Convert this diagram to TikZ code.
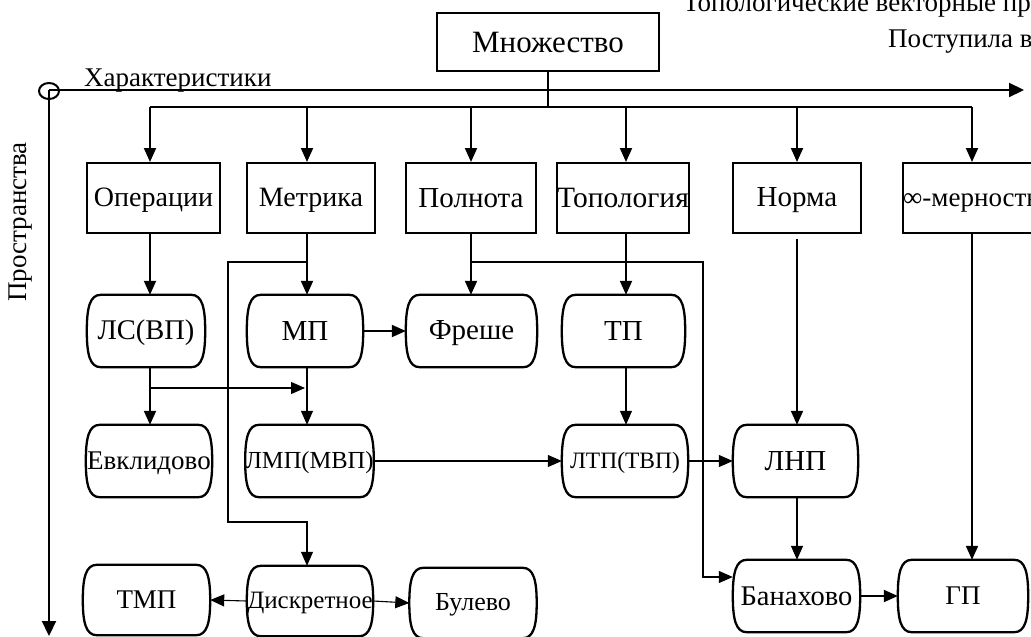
\documentclass[tikz,border=0pt]{standalone}
\usepackage{fontspec}
\setmainfont{Liberation Serif}
\usetikzlibrary{arrows.meta}
\newcommand\fs[1]{\fontsize{#1}{#1}\selectfont}
\newcommand\mystrut{\vrule height 0.82em depth 0.16em width 0pt\relax}
\tikzset{
  box/.style={draw, line width=2pt, inner sep=0pt, font=\fs{28}, execute at begin node=\mystrut},
  bar/.style={inner sep=0pt, font=\fs{27}, execute at begin node=\mystrut},
  bline/.style={line width=2.3pt},
  tip/.style={-{Triangle[length=14pt,width=12pt]}},
  thk/.style={line width=2pt, tip},
  thn/.style={line width=1.1pt, tip},
  thnl/.style={line width=1.1pt},
  axis/.style={line width=2.2pt, -{Triangle[length=15pt,width=14pt]}},
  lbl/.style={inner sep=0pt, font=\fs{27}},
}
\newcommand\barrelshape[1]{%
  \draw[bline] ([xshift=14pt]#1.north west) -- ([xshift=-14pt]#1.north east)
    .. controls ([xshift=-3pt]#1.north east) and ([yshift=-13pt]#1.north east) .. (#1.east)
    .. controls ([yshift=13pt]#1.south east) and ([xshift=-3pt]#1.south east) .. ([xshift=-14pt]#1.south east)
    -- ([xshift=14pt]#1.south west)
    .. controls ([xshift=3pt]#1.south west) and ([yshift=13pt]#1.south west) .. (#1.west)
    .. controls ([yshift=-13pt]#1.north west) and ([xshift=3pt]#1.north west) .. cycle;}
\begin{document}
\begin{tikzpicture}[x=1pt,y=-1pt]
\useasboundingbox (0,0) rectangle (1031,637);
\clip (0,0) rectangle (1031,637);

% header texts
\node[lbl, anchor=base east] (hdr) at (1031,11) {Топологические векторные пр};
\node[lbl, anchor=base west] (rcv) at (888,47) {Поступила в};

% axes
\coordinate (o) at (49,90);
\coordinate (xend) at (1024,90);
\coordinate (yend) at (49,636);
\draw[line width=2pt] (49,91) ellipse [x radius=10pt, y radius=8pt];
\draw[axis] (o) -- (xend);
\draw[axis] (o) -- (yend);
\node[lbl, anchor=base west] (xl) at (84,86) {Характеристики};
\node[lbl, rotate=90] (yl) at (21,222) {Пространства};

% top
\node[box, minimum width=222pt, minimum height=58pt, font=\fs{31}] (set) at (548,42) {Множество};

% characteristic boxes
\node[box, minimum width=133pt, minimum height=70pt] (ops) at (153.5,198) {Операции};
\node[box, minimum width=128pt, minimum height=70pt] (metr) at (311,198) {Метрика};
\node[box, minimum width=130pt, minimum height=70pt, font=\fs{29}] (poln) at (471,198) {Полнота};
\node[box, minimum width=122pt, minimum height=70pt, font=\fs{29.5}] (topo) at (623,198) {Топология};
\node[box, minimum width=128pt, minimum height=70pt, font=\fs{29}] (norm) at (797,198) {Норма};
\node[box, minimum width=136pt, minimum height=70pt, font=\fs{27}] (inf) at (971,198) {∞-мерность};

% spaces
\node[bar, minimum width=118pt, minimum height=72pt, font=\fs{28.5}] (ls) at (146,331) {ЛС(ВП)};
\node[bar, minimum width=116pt, minimum height=72pt, font=\fs{29}] (mp) at (305,331) {МП};
\node[bar, minimum width=131pt, minimum height=72pt, font=\fs{29}] (fr) at (471.5,331) {Фреше};
\node[bar, minimum width=123pt, minimum height=72pt, font=\fs{29}] (tp) at (623.5,331) {ТП};
\node[bar, minimum width=126pt, minimum height=72pt] (evk) at (149,461) {Евклидово};
\node[bar, minimum width=127pt, minimum height=72pt, font=\fs{24.5}] (lmp) at (309.5,461) {ЛМП(МВП)};
\node[bar, minimum width=126pt, minimum height=72pt, font=\fs{23.5}] (ltp) at (625,461) {ЛТП(ТВП)};
\node[bar, minimum width=125pt, minimum height=72pt, font=\fs{29}] (lnp) at (795.5,461) {ЛНП};
\node[bar, minimum width=127pt, minimum height=70pt] (tmp) at (146.5,600) {ТМП};
\node[bar, minimum width=126pt, minimum height=70pt, font=\fs{25}] (disk) at (310,601) {Дискретное};
\node[bar, minimum width=127pt, minimum height=70pt, font=\fs{26}] (bul) at (473,603) {Булево};
\node[bar, minimum width=127pt, minimum height=72pt, font=\fs{28.5}] (ban) at (796.5,596) {Банахово};
\node[bar, minimum width=130pt, minimum height=72pt] (gp) at (963,596) {ГП};
\foreach \n in {ls,mp,fr,tp,evk,lmp,ltp,lnp,tmp,disk,bul,ban,gp} {\barrelshape{\n}}

% distribution bus
\coordinate (k1) at (150,107);
\coordinate (k2) at (307,107);
\coordinate (k3) at (471,107);
\coordinate (k4) at (626,107);
\coordinate (k5) at (797,107);
\coordinate (k6) at (972,107);
\draw[thnl] (set.south) -- (set.south |- k1);
\draw[thnl] (k1) -- (k6);
\foreach \k/\b in {k1/ops,k2/metr,k3/poln,k4/topo,k5/norm,k6/inf} {\draw[thk] (\k) -- (\k |- \b.north);}

% vertical chains
\draw[thk] (k1 |- ops.south) -- (k1 |- ls.north);
\draw[thk] (k1 |- ls.south) -- (k1 |- evk.north);
\coordinate (lsb) at (150,388);
\draw[thn, shorten >=2pt] (lsb) -- (k2 |- lsb);
\draw[thk] (k2 |- metr.south) -- (k2 |- mp.north);
\draw[thn] (k2 |- mp.south) -- (k2 |- lmp.north);
\draw[thk] (mp.east) -- (fr.west);
\draw[thk] (k3 |- poln.south) -- (k3 |- fr.north);
\draw[thk] (k4 |- topo.south) -- (k4 |- tp.north);
\draw[thn] (k4 |- tp.south) -- (k4 |- ltp.north);
\draw[thn] (lmp.east) -- (ltp.west);
\draw[thn] (ltp.east) -- (lnp.west);
\draw[thk, shorten <=5pt] (k5 |- norm.south) -- (k5 |- lnp.north);
\draw[thn, line width=1.5pt] (k5 |- lnp.south) -- (k5 |- ban.north);
\draw[thk] (k6 |- inf.south) -- (k6 |- gp.north);
\draw[thk] (ban.east) -- (gp.west);
\draw[thn] (disk.west) -- (tmp.east);
\draw[thn] (disk.east) -- (bul.west);

% branch from Метрика to Дискретное
\coordinate (mb1) at (228,262);
\coordinate (mb2) at (228,522);
\draw[thn] (k2 |- mb1) -- (mb1) -- (mb2) -- (k2 |- mb2) -- (k2 |- disk.north);

% branch from Полнота to Банахово
\coordinate (pb1) at (703,262);
\coordinate (pb2) at (703,577);
\draw[thn] (k3 |- pb1) -- (pb1) -- (pb2) -- (pb2 -| ban.west);
\end{tikzpicture}
\end{document}
